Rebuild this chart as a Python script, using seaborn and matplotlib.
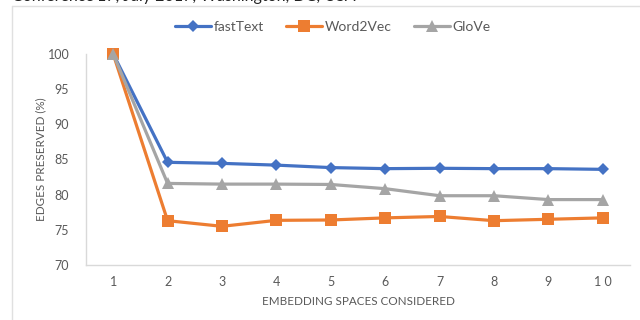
import matplotlib
matplotlib.use("Agg")
import matplotlib.pyplot as plt
import seaborn as sns
import pandas as pd
from matplotlib.lines import Line2D

spaces = [1, 2, 3, 4, 5, 6, 7, 8, 9, 10]
space_labels = ["1", "2", "3", "4", "5", "6", "7", "8", "9", "1 0"]
fasttext = [100, 84.6, 84.45, 84.2, 83.85, 83.7, 83.75, 83.7, 83.7, 83.6]
word2vec = [100, 76.3, 75.5, 76.35, 76.4, 76.7, 76.9, 76.3, 76.5, 76.7]
glove = [100, 81.6, 81.5, 81.5, 81.45, 80.85, 79.85, 79.85, 79.3, 79.3]
models = ["fastText", "Word2Vec", "GloVe"]
colors = ["#4472C4", "#ED7D31", "#A5A5A5"]
markers = ["D", "s", "^"]
msizes = [6, 8, 8]

df = pd.concat([
    pd.DataFrame({"space": spaces, "value": vals, "model": name})
    for name, vals in zip(models, [fasttext, word2vec, glove])
])

sns.set_theme(style="white")
plt.rcParams["font.family"] = ["Lato", "DejaVu Sans"]
text_color = "#595959"

fig = plt.figure(figsize=(6.4, 3.2), dpi=100)
ax = fig.add_axes([86 / 640, 1 - 265 / 320, (630 - 86) / 640, (265 - 54) / 320])

for name, col, mk, ms in zip(models, colors, markers, msizes):
    sns.lineplot(data=df[df["model"] == name], x="space", y="value", ax=ax,
                 color=col, marker=mk, markersize=ms, markeredgewidth=0,
                 linewidth=2.3, legend=False, clip_on=False, zorder=3)

ax.set_xlim(0.5, 10.5)
ax.set_ylim(70, 100)
ax.set_yticks(range(70, 101, 5))
ax.set_xticks(spaces)
ax.set_xticklabels(space_labels)
ax.tick_params(axis="both", length=0, labelsize=9, labelcolor=text_color)
ax.tick_params(axis="y", pad=12)
ax.tick_params(axis="x", pad=8)
for side in ["top", "right"]:
    ax.spines[side].set_visible(False)
for side in ["left", "bottom"]:
    ax.spines[side].set_color("#d9d9d9")
    ax.spines[side].set_linewidth(1.0)
ax.set_xlabel("EMBEDDING SPACES CONSIDERED", fontsize=8.4, color=text_color, labelpad=6)
ax.set_ylabel("EDGES PRESERVED (%)", fontsize=8.4, color=text_color, labelpad=1)

handles = [Line2D([0], [0], color=c, marker=m, markersize=s, markeredgewidth=0, linewidth=2.3)
           for c, m, s in zip(colors, markers, msizes)]
fig.legend(handles, models, loc="center", bbox_to_anchor=(0.52, 1 - 27 / 320), ncol=3,
           frameon=False, fontsize=10, labelcolor=text_color, handlelength=2.6,
           handletextpad=0.2, columnspacing=1.6)

# chart area border
fig.add_artist(Line2D([12 / 640, 1], [1 - 6 / 320, 1 - 6 / 320], color="#e0e0e0", linewidth=1,
                      transform=fig.transFigure))
fig.add_artist(Line2D([12 / 640, 12 / 640], [0, 1 - 6 / 320], color="#e0e0e0", linewidth=1,
                      transform=fig.transFigure))

# running header of the page, cut by the top edge
fig.text(12 / 640, 1 + 3 / 320, "Conference'17, July 2017, Washington, DC, USA",
         fontsize=11.5, color="#222222", va="center", ha="left",
         family=["Lato", "DejaVu Sans"])

fig.savefig("out.png", dpi=100)
